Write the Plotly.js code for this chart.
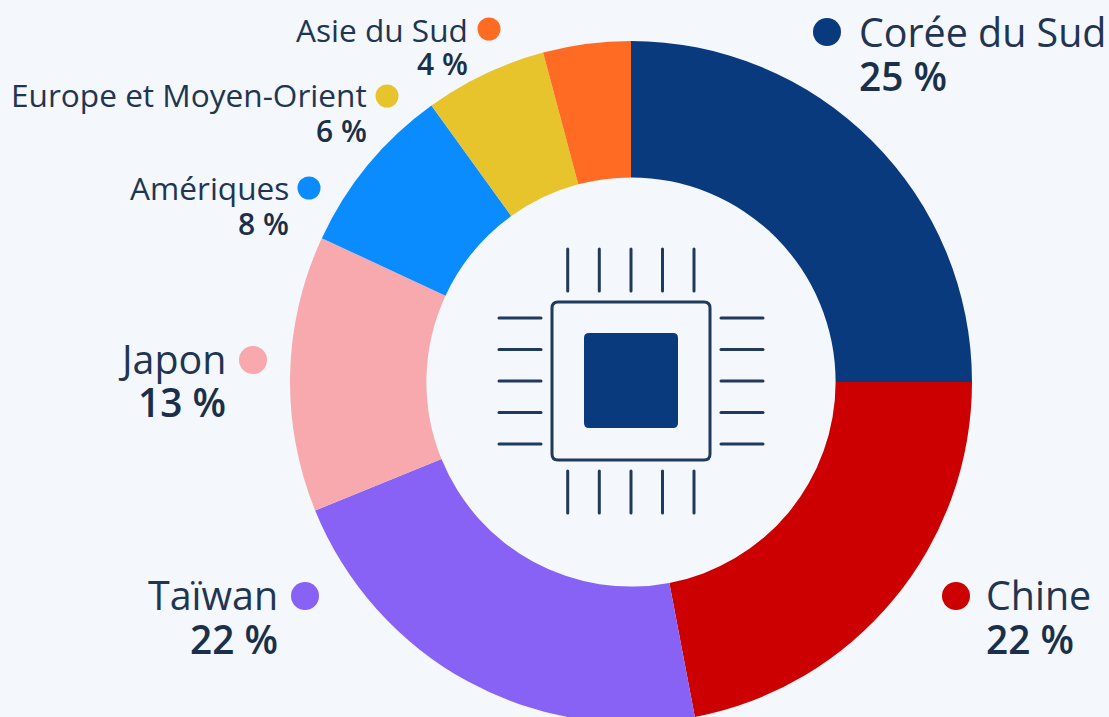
<!DOCTYPE html>
<html lang="fr">
<head>
<meta charset="utf-8">
<script src="https://cdn.plot.ly/plotly-3.0.1.min.js"></script>
<style>
html,body{margin:0;padding:0;width:1109px;height:717px;overflow:hidden;background:#f4f7fb}
#chart{width:1109px;height:730px}
.shapelayer path{stroke-linecap:round}
</style>
</head>
<body>
<div id="chart"></div>
<script>
const categories = ["Corée du Sud","Chine","Taïwan","Japon","Amériques","Europe et Moyen-Orient","Asie du Sud"];
const shares = [25,22,21.85,13.08,8.12,5.8,4.15];
const colors = ["#0a3a7e","#cc0000","#8862f5","#f7a9ad","#0a8cff","#e8c42c","#ff6b22"];

const W = 1109, H = 730;
const ink = "#1f3552", pctInk = "#1b3048";
const FONT = '"Open Sans", sans-serif';
const px = x => x / W;
const py = y => 1 - y / H;

const labelPlace = [
  {side:"left",  x:859, y1:32,  y2:76,  fs:39.4, fp:38.8, dx:827, dy:32,  r:14},
  {side:"left",  x:986, y1:595, y2:639, fs:39.4, fp:38.8, dx:956, dy:596, r:14},
  {side:"right", x:278, y1:595, y2:639, fs:39.4, fp:38.8, dx:305, dy:596, r:14},
  {side:"right", x:226, y1:359, y2:402, fs:39.4, fp:38.8, dx:253, dy:360, r:14},
  {side:"right", x:289, y1:187, y2:223, fs:31.6, fp:30, dx:309, dy:188, r:11.5},
  {side:"right", x:367, y1:95,  y2:130, fs:31.6, fp:30, dx:387, dy:96,  r:11.5},
  {side:"right", x:468, y1:29,  y2:63,  fs:31.6, fp:30, dx:489, dy:29,  r:11.5}
];

const annotations = [], shapes = [];
categories.forEach((name, i) => {
  const p = labelPlace[i];
  const common = {xref:"paper", yref:"paper", x:px(p.x), xanchor:p.side, yanchor:"middle", showarrow:false, borderpad:0, borderwidth:0};
  annotations.push({...common, y:py(p.y1), text:name, font:{family:FONT, size:p.fs, color:ink}});
  annotations.push({...common, y:py(p.y2), text:Math.round(shares[i])+" %", font:{family:FONT, size:p.fp, color:pctInk, weight:600}});
  shapes.push({type:"circle", xref:"paper", yref:"paper", x0:px(p.dx-p.r), x1:px(p.dx+p.r), y0:py(p.dy+p.r), y1:py(p.dy-p.r), fillcolor:colors[i], line:{width:0}});
});

const iconLine = {color:"#1f3a5c", width:3};
const P = (x,y) => px(x).toFixed(5)+","+py(y).toFixed(5);
function roundRect(x0,y0,x1,y1,r){
  return "M"+P(x0+r,y0)+" L"+P(x1-r,y0)+" Q"+P(x1,y0)+" "+P(x1,y0+r)+" L"+P(x1,y1-r)+" Q"+P(x1,y1)+" "+P(x1-r,y1)+
         " L"+P(x0+r,y1)+" Q"+P(x0,y1)+" "+P(x0,y1-r)+" L"+P(x0,y0+r)+" Q"+P(x0,y0)+" "+P(x0+r,y0)+" Z";
}
shapes.push({type:"path", xref:"paper", yref:"paper", path:roundRect(552,302,710,460,6), line:iconLine, fillcolor:"rgba(0,0,0,0)"});
shapes.push({type:"path", xref:"paper", yref:"paper", path:roundRect(584,333,678,428,5), line:{width:0}, fillcolor:colors[0]});
const pinX = [567.7,599.3,631,662.5,694];
const pinY = [318,349.5,381,412.5,444];
const seg = (x0,y0,x1,y1) => ({type:"line", xref:"paper", yref:"paper", x0:px(x0), y0:py(y0), x1:px(x1), y1:py(y1), line:iconLine});
pinX.forEach(x => { shapes.push(seg(x,249,x,291)); shapes.push(seg(x,471,x,513)); });
pinY.forEach(y => { shapes.push(seg(499,y,541,y)); shapes.push(seg(721,y,763,y)); });

const data = [{
  type:"pie", labels:categories, values:shares, hole:0.6, sort:false, direction:"clockwise", rotation:0,
  marker:{colors:colors, line:{width:0}}, textinfo:"none", hoverinfo:"label+percent", showlegend:false,
  domain:{x:[px(631-341), px(631+341)], y:[py(723), py(41)]}
}];

const layout = {
  width:W, height:H, margin:{l:0,r:0,t:0,b:0},
  paper_bgcolor:"#f4f7fb", plot_bgcolor:"#f4f7fb", showlegend:false,
  font:{family:FONT}, annotations:annotations, shapes:shapes
};
Plotly.newPlot("chart", data, layout, {displayModeBar:false, staticPlot:true});
</script>
</body>
</html>
